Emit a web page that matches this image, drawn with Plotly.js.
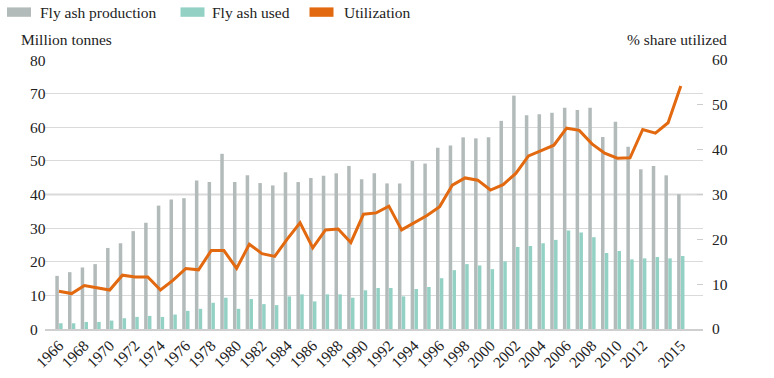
<!DOCTYPE html>
<html><head><meta charset="utf-8">
<script src="https://cdn.plot.ly/plotly-3.0.1.min.js"></script>
<style>html,body{margin:0;padding:0;background:#fff}#chart{width:774px;height:378px}</style>
</head><body><div id="chart"></div>
<script>
const years = [1966,1967,1968,1969,1970,1971,1972,1973,1974,1975,1976,1977,1978,1979,1980,1981,1982,1983,1984,1985,1986,1987,1988,1989,1990,1991,1992,1993,1994,1995,1996,1997,1998,1999,2000,2001,2002,2003,2004,2005,2006,2007,2008,2009,2010,2011,2012,2013,2014,2015];
const production = [15.8,16.9,18.3,19.3,24.1,25.5,29.1,31.6,36.7,38.5,38.9,44.2,43.7,52.1,43.7,45.7,43.4,42.7,46.6,43.7,44.9,45.6,46.3,48.5,44.5,46.3,43.3,43.3,50.0,49.2,53.9,54.6,57.0,56.7,57.0,61.9,69.4,63.6,63.9,64.3,65.8,65.1,65.8,57.1,61.6,54.2,47.5,48.5,45.7,40.1];
const used = [1.7,1.7,2.1,2.1,2.5,3.2,3.6,3.9,3.6,4.3,5.4,6.0,7.8,9.3,6.0,8.9,7.4,7.1,9.7,10.3,8.2,10.3,10.3,9.3,11.5,12.2,12.2,9.7,11.9,12.5,15.1,17.5,19.3,18.9,17.8,20.1,24.4,24.7,25.5,26.5,29.3,28.7,27.3,22.6,23.2,20.7,21.0,21.4,21.0,21.7];
const utilization = [8.4,7.9,9.7,9.2,8.7,12.0,11.6,11.6,8.7,10.9,13.5,13.2,17.5,17.5,13.5,18.9,16.8,16.2,20.1,23.7,18.1,22.1,22.3,19.3,25.6,25.9,27.4,22.1,23.7,25.3,27.3,32.1,33.7,33.2,31.0,32.2,34.7,38.6,39.8,41.0,44.8,44.3,41.3,39.2,38.1,38.2,44.5,43.7,46.0,54.2];
const xTickVals = [1966,1968,1970,1972,1974,1976,1978,1980,1982,1984,1986,1988,1990,1992,1994,1996,1998,2000,2002,2004,2006,2008,2010,2012,2015];
const xTickLabels = ['1966','1968','1970','1972','1974','1976','1978','1980','1982','1984','1986','1988','1990','1992','1994','1996','1998','2000','2002','2004','2006','2008','2010','2012','2015'];
const leftTicks = [0,10,20,30,40,50,60,70,80];
const rightTicks = [0,10,20,30,40,50,60];
const seriesNames = ['Fly ash production','Fly ash used','Utilization'];
const seriesColors = ['#b3baba','#93d1c4','#e2690f'];
const leftTitle = 'Million tonnes';
const rightTitle = '% share utilized';

const W = 774, H = 378, ML = 45, MR = 71, MT = 60, MB = 49;
const PW = W - ML - MR, PH = H - MT - MB;
const px = x => (x - ML) / PW;
const py = y => (H - MB - y) / PH;
const FONT = '"Liberation Serif", "Times New Roman", Times, "DejaVu Serif", serif';
const TXT = '#222222';
const FS = 15.5;

const traces = [
  {type:'bar', x: years, y: production, name: seriesNames[0], marker:{color: seriesColors[0]}, showlegend:false},
  {type:'bar', x: years, y: used, name: seriesNames[1], marker:{color: seriesColors[1]}, showlegend:false},
  {type:'scatter', mode:'lines', x: years, y: utilization, name: seriesNames[2], yaxis:'y2',
   line:{color: seriesColors[2], width:3, shape:'linear'}, showlegend:false}
];

const annotations = [];
const shapes = [];
// legend
const legBoxX = [7, 180.5, 309.5];
const legTextX = [37.5, 209.5, 341.5];
seriesNames.forEach((n, i) => {
  shapes.push({type:'rect', xref:'paper', yref:'paper', x0: px(legBoxX[i]), x1: px(legBoxX[i] + 24),
    y0: py(16.8), y1: py(7.4), fillcolor: seriesColors[i], line:{width:0}});
  annotations.push({xref:'paper', yref:'paper', x: px(legTextX[i]), y: py(12), xanchor:'left', yanchor:'middle',
    text: n, showarrow:false, font:{family: FONT, size: FS, color: TXT}});
});
// axis titles
annotations.push({xref:'paper', yref:'paper', x: px(19), y: py(39.5), xanchor:'left', yanchor:'middle',
  text: leftTitle, showarrow:false, font:{family: FONT, size: FS, color: TXT}});
annotations.push({xref:'paper', yref:'paper', x: px(729), y: py(39.5), xanchor:'right', yanchor:'middle',
  text: rightTitle, showarrow:false, font:{family: FONT, size: FS, color: TXT}});
// left tick labels (left aligned)
leftTicks.forEach(v => {
  annotations.push({xref:'paper', yref:'y', x: px(28), y: v, xanchor:'left', yanchor:'middle',
    text: String(v), showarrow:false, font:{family: FONT, size: FS, color: TXT}});
});
// emphasised shared gridline
shapes.push({type:'line', xref:'paper', yref:'y', x0:0, x1:1, y0:40, y1:40, line:{color:'#e6e6e6', width:2.5}, layer:'below'});

const layout = {
  width: W, height: H,
  margin:{l: ML, r: MR, t: MT, b: MB, pad:0},
  paper_bgcolor:'#ffffff', plot_bgcolor:'#ffffff',
  font:{family: FONT, size: FS, color: TXT},
  barmode:'group', bargap:0.4, bargroupgap:0.08,
  showlegend:false,
  xaxis:{type:'linear', range:[1964.9, 2016.75], tickmode:'array', tickvals: xTickVals, ticktext: xTickLabels,
    tickangle:-45, ticks:'', showgrid:false, zeroline:false, showline:true, linecolor:'#cfcfcf', linewidth:1.5,
    tickfont:{family: FONT, size: FS, color: TXT}, fixedrange:true},
  yaxis:{range:[0,80], tickmode:'array', tickvals: leftTicks, showticklabels:false, ticks:'',
    showgrid:true, gridcolor:'#dadada', gridwidth:1, zeroline:false, showline:false, fixedrange:true},
  yaxis2:{overlaying:'y', side:'right', range:[0,60], tickmode:'array', tickvals: rightTicks,
    ticks:'inside', ticklen:6, tickcolor:'#cccccc', showgrid:false, zeroline:false, showline:false,
    ticklabelstandoff:8, tickfont:{family: FONT, size: FS, color: TXT}, fixedrange:true},
  annotations, shapes
};
Plotly.newPlot('chart', traces, layout, {displayModeBar:false, staticPlot:true});
</script></body></html>
